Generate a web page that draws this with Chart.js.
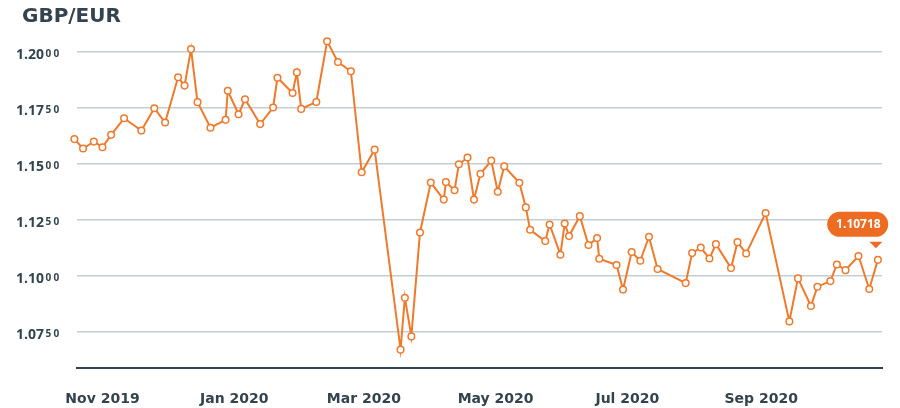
<!DOCTYPE html>
<html><head><meta charset="utf-8">
<script src="https://cdn.jsdelivr.net/npm/chart.js@4.4.1/dist/chart.umd.min.js"></script>
<style>html,body{margin:0;padding:0;background:#fff;}#wrap{width:900px;height:408px;}</style>
</head><body><div id="wrap"><canvas id="c" width="900" height="408"></canvas></div>
<script>
const chartTitle = 'GBP/EUR';
const dates = [
 '2019-10-19','2019-10-23','2019-10-28','2019-11-01','2019-11-05','2019-11-11','2019-11-19','2019-11-25','2019-11-30',
 '2019-12-06','2019-12-09','2019-12-12','2019-12-15','2019-12-21','2019-12-28','2019-12-29',
 '2020-01-03','2020-01-06','2020-01-13','2020-01-19','2020-01-21','2020-01-28','2020-01-30',
 '2020-02-01','2020-02-08','2020-02-13','2020-02-18','2020-02-24','2020-02-29',
 '2020-03-06','2020-03-18','2020-03-20','2020-03-23','2020-03-27',
 '2020-04-01','2020-04-07','2020-04-08','2020-04-12','2020-04-14','2020-04-18','2020-04-21','2020-04-24','2020-04-29',
 '2020-05-02','2020-05-05','2020-05-12','2020-05-15','2020-05-17','2020-05-24','2020-05-26','2020-05-31',
 '2020-06-02','2020-06-04','2020-06-09','2020-06-13','2020-06-17','2020-06-18','2020-06-26','2020-06-29',
 '2020-07-03','2020-07-07','2020-07-11','2020-07-15','2020-07-28','2020-07-31',
 '2020-08-04','2020-08-08','2020-08-11','2020-08-18','2020-08-21','2020-08-25',
 '2020-09-03','2020-09-14','2020-09-18','2020-09-24','2020-09-27',
 '2020-10-03','2020-10-06','2020-10-10','2020-10-16','2020-10-21','2020-10-25'
];
const rates = [
 1.1611,1.1569,1.1600,1.1575,1.1630,1.1704,1.1649,1.1749,1.1685,
 1.1887,1.1850,1.2013,1.1776,1.1662,1.1697,1.1827,
 1.1722,1.1789,1.1678,1.1752,1.1885,1.1817,1.1909,
 1.1746,1.1777,1.2048,1.1955,1.1914,1.1463,
 1.1564,1.0671,1.0903,1.0730,1.1194,
 1.1417,1.1341,1.1419,1.1383,1.1499,1.1529,1.1341,1.1456,1.1515,
 1.1376,1.1490,1.1416,1.1306,1.1206,1.1156,1.1230,1.1095,
 1.1234,1.1178,1.1267,1.1138,1.1169,1.1077,1.1049,1.0939,
 1.1107,1.1068,1.1175,1.1031,1.0968,1.1102,
 1.1127,1.1078,1.1142,1.1035,1.1151,1.1100,
 1.1281,1.0797,1.0989,1.0866,1.0952,
 1.0977,1.1051,1.1026,1.1089,1.0942,1.10718
];
const yTickValues = [1.075, 1.100, 1.125, 1.150, 1.175, 1.200];
const xTickDates = ['2019-11-01','2020-01-01','2020-03-01','2020-05-01','2020-07-01','2020-09-01'];
const xTickLabels = ['Nov 2019','Jan 2020','Mar 2020','May 2020','Jul 2020','Sep 2020'];

const ORIGIN = Date.UTC(2019, 10, 1);
function dayOf(s){ const p = s.split('-').map(Number); return (Date.UTC(p[0], p[1]-1, p[2]) - ORIGIN) / 86400000; }
const points = dates.map((d, i) => ({x: dayOf(d), y: rates[i]}));
const xTickDays = xTickDates.map(dayOf);

const ORANGE = '#F07A2C';
const PILL = '#EE6B22';
const INK = '#34444F';

const yLabelPlugin = {
  id: 'yLabels',
  afterDraw(chart){
    const ctx = chart.ctx, ys = chart.scales.y;
    ctx.save();
    ctx.fillStyle = INK;
    yTickValues.forEach(v => {
      const py = ys.getPixelForValue(v);
      const s = v.toFixed(4);
      ctx.font = 'bold 14px "Open Sans"';
      ctx.textAlign = 'right'; ctx.textBaseline = 'alphabetic';
      ctx.fillText(s.slice(0, 4), 44, py + 7);
      ctx.font = 'bold 10px "Open Sans"';
      ctx.textAlign = 'left';
      ctx.fillText(s.charAt(4), 45.5, py + 5.3);
      ctx.fillText(s.charAt(5), 53.5, py + 5.3);
    });
    ctx.restore();
  }
};

const lastPlugin = {
  id: 'lastValue',
  afterDatasetsDraw(chart){
    const meta = chart.getDatasetMeta(0);
    const el = meta.data[meta.data.length - 1];
    if (!el) return;
    const px = el.x, py = el.y, ctx = chart.ctx;
    const txt = rates[rates.length - 1].toFixed(5);
    ctx.save();
    ctx.fillStyle = PILL;
    ctx.beginPath();
    ctx.roundRect(px - 50.7, py - 48, 61, 25, 12.5);
    ctx.fill();
    ctx.beginPath();
    ctx.moveTo(px - 8.5, py - 18);
    ctx.lineTo(px + 4.5, py - 18);
    ctx.lineTo(px - 2, py - 11.5);
    ctx.closePath();
    ctx.fill();
    ctx.fillStyle = '#ffffff';
    ctx.font = 'bold 12px "Open Sans"';
    ctx.textAlign = 'center'; ctx.textBaseline = 'middle';
    ctx.fillText(txt, px - 19.5, py - 35.3);
    ctx.restore();
  }
};

new Chart(document.getElementById('c'), {
  type: 'line',
  data: { datasets: [{
    data: points,
    borderColor: ORANGE,
    borderWidth: 2,
    tension: 0,
    pointRadius: 3.3,
    pointBorderWidth: 1.5,
    pointBackgroundColor: '#ffffff',
    pointBorderColor: ORANGE,
    clip: false
  }]},
  options: {
    responsive: false,
    animation: false,
    devicePixelRatio: 1,
    layout: { padding: { left: 22, right: 18, top: 0, bottom: 0 } },
    plugins: {
      legend: { display: false },
      tooltip: { enabled: false },
      title: {
        display: true, text: chartTitle, align: 'start', color: INK,
        font: { family: 'DejaVu Sans', weight: 'bold', size: 20, lineHeight: 1.2 },
        padding: { top: 5, bottom: 0.6 }
      }
    },
    scales: {
      x: {
        type: 'linear', min: -11.8, max: 360.9,
        grid: { display: false, drawTicks: false },
        border: { display: true, color: '#34444F', width: 2 },
        afterBuildTicks(s){ s.ticks = xTickDays.map(v => ({value: v})); },
        afterFit(s){ s.height = 40; },
        ticks: {
          autoSkip: false, maxRotation: 0, padding: 23, color: INK,
          font: { family: 'DejaVu Sans', weight: 'bold', size: 14 },
          callback: (v, i) => xTickLabels[i]
        }
      },
      y: {
        min: 1.0589, max: 1.21,
        grid: { color: '#C3CDD3', lineWidth: 1.5, drawTicks: false },
        border: { display: false },
        afterBuildTicks(s){ s.ticks = yTickValues.map(v => ({value: v})); },
        afterFit(s){ s.width = 55; },
        ticks: { display: false }
      }
    }
  },
  plugins: [yLabelPlugin, lastPlugin]
});
</script></body></html>
